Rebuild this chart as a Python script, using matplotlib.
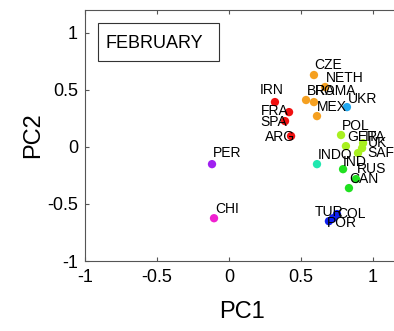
import matplotlib
matplotlib.use("Agg")
import matplotlib.pyplot as plt
from matplotlib.patches import Rectangle

plt.rcParams['font.family'] = ['Liberation Sans', 'DejaVu Sans']

countries = ["CZE", "NETH", "BRA", "ROMA", "MEX", "UKR",
             "IRN", "FRA", "SPA", "ARG",
             "POL", "GER", "ITA", "UK", "SAF",
             "INDO", "IND", "RUS", "CAN",
             "TUR", "POR", "COL",
             "PER", "CHI"]
pc1 = [0.590, 0.667, 0.535, 0.590, 0.611, 0.819,
       0.319, 0.417, 0.389, 0.431,
       0.778, 0.812, 0.931, 0.924, 0.896,
       0.611, 0.792, 0.882, 0.833,
       0.694, 0.722, 0.750,
       -0.118, -0.104]
pc2 = [0.630, 0.525, 0.411, 0.393, 0.270, 0.349,
       0.393, 0.305, 0.226, 0.095,
       0.104, 0.007, 0.033, -0.011, -0.054,
       -0.151, -0.195, -0.282, -0.361,
       -0.651, -0.625, -0.589,
       -0.151, -0.625]
label_x = [0.590, 0.674, 0.542, 0.595, 0.611, 0.826,
           0.215, 0.222, 0.215, 0.250,
           0.785, 0.819, 0.944, 0.965, 0.958,
           0.618, 0.792, 0.889, 0.833,
           0.597, 0.681, 0.750,
           -0.111, -0.097]
label_y = [0.718, 0.604, 0.489, 0.489, 0.349, 0.419,
           0.498, 0.314, 0.218, 0.086,
           0.182, 0.086, 0.086, 0.033, -0.054,
           -0.072, -0.133, -0.195, -0.282,
           -0.572, -0.668, -0.589,
           -0.054, -0.546]
colors = ["#f5a020", "#f5a020", "#f5a020", "#f5a020", "#f5a020", "#20a8f0",
          "#f01010", "#f01010", "#f01010", "#f01010",
          "#a8f020", "#a8f020", "#a8f020", "#a8f020", "#a8f020",
          "#20e8b0", "#20e020", "#20e020", "#20e020",
          "#1020f0", "#1020f0", "#1020f0",
          "#a020f0", "#f020d0"]
xticks = [-1, -0.5, 0, 0.5, 1]
yticks = [-1, -0.5, 0, 0.5, 1]
title_text = "FEBRUARY"

W, H = 394, 331
fig = plt.figure(figsize=(W / 100, H / 100), dpi=100)
# axes extends slightly past the right edge of the figure (cropped, as in the reference)
ax = fig.add_axes([85 / W, (H - 261) / H, 330 / W, 251 / H])

ax.scatter(pc1, pc2, s=36, c=colors, edgecolors='none', zorder=3)
for name, lx, ly in zip(countries, label_x, label_y):
    ax.text(lx, ly, name, fontsize=10, ha='left', va='center', color='black', zorder=4)

ax.set_xlim(-1, -1 + 330 / 144)
ax.set_ylim(-1, 1.2)
ax.set_xticks(xticks)
ax.set_yticks(yticks)
ax.set_xticklabels([f"{t:g}" for t in xticks])
ax.set_yticklabels([f"{t:g}" for t in yticks])
ax.tick_params(direction='in', length=3, width=0.8, color='#555555',
               labelsize=13, top=True, right=False)
ax.tick_params(axis='x', pad=6)
ax.tick_params(axis='y', pad=5)
for side in ['left', 'bottom', 'top']:
    ax.spines[side].set_color('#555555')
    ax.spines[side].set_linewidth(0.8)
ax.spines['right'].set_visible(False)

ax.set_xlabel("PC1", fontsize=17, labelpad=2)
ax.xaxis.set_label_coords((242 - 85) / 330, -0.16)
ax.set_ylabel("PC2", fontsize=17, labelpad=2)

# annotation box
fig.patches.append(Rectangle((98 / W, 1 - 61 / H), 121 / W, 38 / H,
                             transform=fig.transFigure, fill=False,
                             edgecolor='#333333', linewidth=0.8))
fig.text(106 / W, 1 - 43 / H, title_text, fontsize=13, ha='left', va='center')

fig.savefig("out.png", dpi=100)
